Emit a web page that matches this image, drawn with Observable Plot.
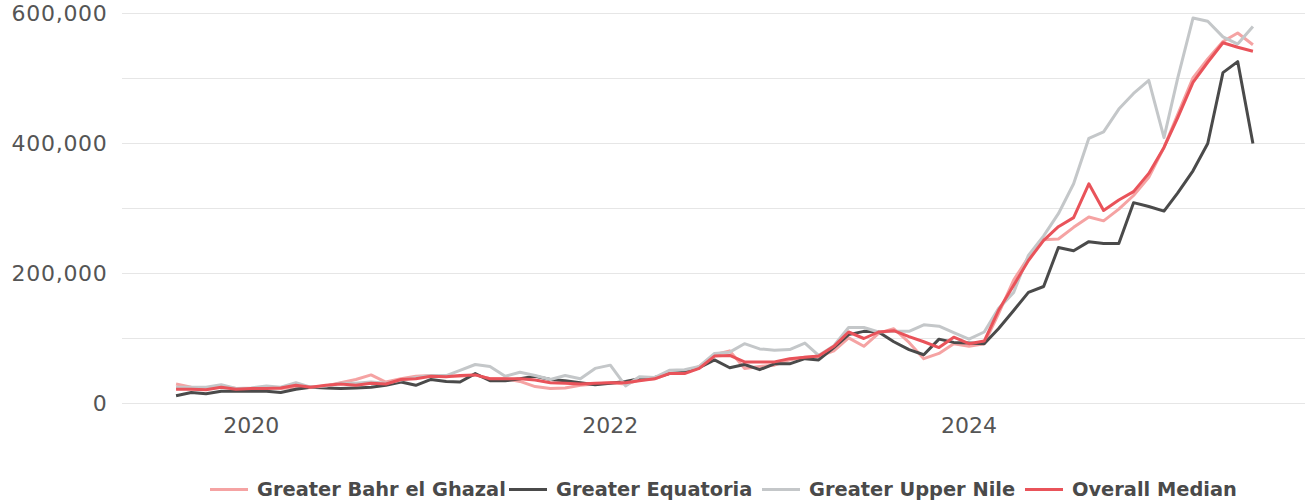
<!DOCTYPE html>
<html>
<head>
<meta charset="utf-8">
<script src="https://cdn.jsdelivr.net/npm/d3@7"></script>
<script src="https://cdn.jsdelivr.net/npm/@observablehq/plot@0.6"></script>
<style>
  html, body { margin: 0; padding: 0; background: #fff; width: 1314px; height: 502px; overflow: hidden; }
  #chart svg { display: block; }
  #legend { position: absolute; left: 0; top: 475px; width: 1314px; height: 28px;
    font-family: "DejaVu Sans", sans-serif; font-weight: bold; font-size: 19.4px; color: #4a4a4a; white-space: nowrap; }
  .item { position: absolute; top: 0; height: 28px; display: flex; align-items: center; }
  .sw { width: 38px; height: 3px; margin-right: 9px; }
</style>
</head>
<body>
<div id="chart"></div>
<div id="legend"></div>
<script>
// Monthly series, Aug 2019 – Aug 2025 (values in thousands)
const firstMonth = "2019-08-01";
const lastMonth = "2025-08-01";

const seriesNames = ["Greater Bahr el Ghazal", "Greater Equatoria", "Greater Upper Nile", "Overall Median"];
const seriesColors = ["#f5a3a3", "#4a4a4a", "#c4c7c9", "#e9535a"];
const legendLeft = [210, 509, 762, 1025];

const bahrElGhazal = [30,25,24,27,23,23,25,23,25,25,27,32,37,44,33,38,42,43,42,42,44,38,38,34,26,23,24,28,30,32,30,36,38,46,47,57,75,81,54,57,59,67,71,72,81,101,88,108,115,94,69,77,92,88,92,138,190,225,252,253,271,287,281,299,320,348,394,445,501,530,557,570,552];
const equatoria = [12,17,15,19,19,19,19,17,22,25,24,23,24,25,28,33,28,37,34,33,46,35,35,38,42,37,35,32,29,31,34,38,40,46,48,55,67,55,60,52,61,61,69,67,86,106,111,110,95,83,75,99,94,93,92,115,143,171,180,240,235,249,246,246,309,303,296,324,358,400,509,526,400];
const upperNile = [25,25,25,29,23,24,27,25,32,25,27,31,31,33,31,36,40,43,43,51,60,57,42,48,43,37,43,38,54,59,27,41,40,51,52,57,77,79,92,84,82,83,93,74,89,117,117,110,111,111,121,119,109,99,110,146,171,228,258,292,338,408,418,453,477,497,409,501,593,588,564,553,580];
const overallMedian = [22,22,21,25,22,23,23,24,28,25,28,30,28,31,30,37,38,42,41,43,44,38,38,38,36,32,31,30,31,32,32,35,38,46,46,54,73,74,64,64,64,69,71,73,88,110,100,110,112,103,95,86,102,92,96,143,182,220,251,272,286,338,297,313,326,354,394,440,494,525,555,548,542];

const xTickYears = ["2020-01-01", "2022-01-01", "2024-01-01"];
const yTicks = [0, 200000, 400000, 600000];
const yGrid = [0, 100000, 200000, 300000, 400000, 500000, 600000];

const months = d3.utcMonth.range(new Date(firstMonth), d3.utcMonth.offset(new Date(lastMonth), 1));
const allSeries = [bahrElGhazal, equatoria, upperNile, overallMedian];
const rows = [];
allSeries.forEach((vals, si) => {
  vals.forEach((v, i) => rows.push({date: months[i], value: v * 1000, series: seriesNames[si]}));
});

const fontFam = "'DejaVu Sans', sans-serif";
const plot = Plot.plot({
  width: 1314,
  height: 460,
  marginLeft: 122,
  marginRight: 9,
  marginTop: 13,
  marginBottom: 57,
  style: {fontFamily: fontFam, fontSize: "22px", color: "#555", background: "#fff"},
  x: {type: "utc", domain: [new Date(Date.UTC(2019, 3, 14)), new Date(Date.UTC(2025, 10, 16))]},
  y: {domain: [0, 600000]},
  color: {domain: seriesNames, range: seriesColors},
  marks: [
    Plot.gridY(yGrid, {stroke: "#e6e6e6", strokeOpacity: 1, strokeWidth: 1}),
    Plot.axisX(xTickYears.map(d => new Date(d)), {tickSize: 0, tickPadding: 14, tickFormat: d3.utcFormat("%Y"), label: null, fill: "#555", fontSize: 22}),
    Plot.axisY(yTicks, {tickSize: 0, tickPadding: 15, tickFormat: d3.format(","), label: null, fill: "#555", fontSize: 22}),
    Plot.lineY(rows, {x: "date", y: "value", z: "series", stroke: "series", strokeWidth: 3, strokeLinejoin: "round", strokeLinecap: "butt"})
  ]
});
document.getElementById("chart").appendChild(plot);
// slightly wider y tick labels, as in the reference
plot.querySelectorAll("[aria-label='y-axis tick label'] text").forEach(t => t.setAttribute("letter-spacing", "0.7"));

const legend = document.getElementById("legend");
seriesNames.forEach((n, i) => {
  const it = document.createElement("div");
  it.className = "item";
  it.style.left = legendLeft[i] + "px";
  const sw = document.createElement("div");
  sw.className = "sw";
  sw.style.background = seriesColors[i];
  const lab = document.createElement("span");
  lab.textContent = n;
  it.appendChild(sw);
  it.appendChild(lab);
  legend.appendChild(it);
});
</script>
</body>
</html>
